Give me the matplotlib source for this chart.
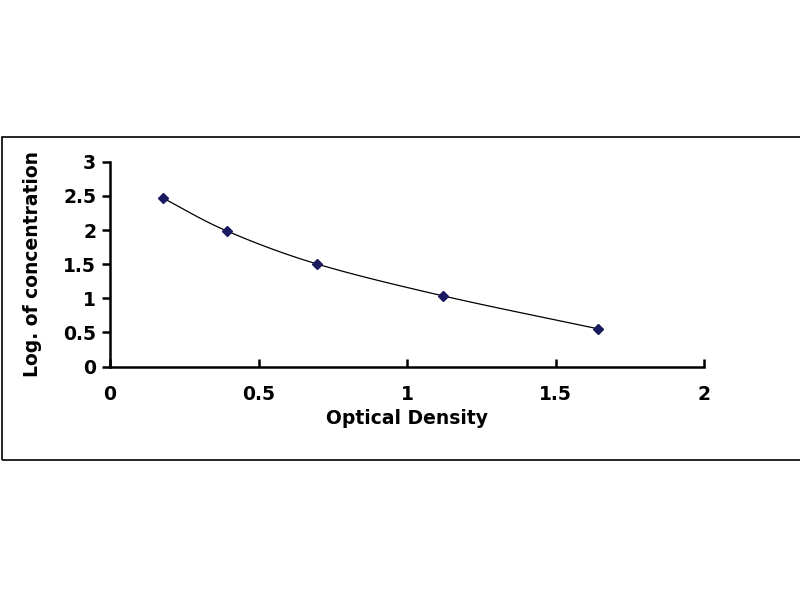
import matplotlib.pyplot as plt
import numpy as np
from matplotlib.patches import Rectangle

# standard curve points
od = [0.179, 0.393, 0.696, 1.122, 1.644]
log_conc = [2.465, 1.987, 1.504, 1.035, 0.552]

x_ticks = [0, 0.5, 1, 1.5, 2]
x_tick_labels = ['0', '0.5', '1', '1.5', '2']
y_ticks = [0, 0.5, 1, 1.5, 2, 2.5, 3]
y_tick_labels = ['0', '0.5', '1', '1.5', '2', '2.5', '3']

plt.rcParams['font.family'] = ['DejaVu Sans']
plt.rcParams['font.weight'] = 'bold'


def smooth(xs, ys, n=30):
    # Catmull-Rom curve through the points, like a smoothed line
    p = np.column_stack([xs, ys])
    p = np.vstack([2 * p[0] - p[1], p, 2 * p[-1] - p[-2]])
    out = []
    for i in range(1, len(p) - 2):
        p0, p1, p2, p3 = p[i - 1], p[i], p[i + 1], p[i + 2]
        t = np.linspace(0, 1, n)[:, None]
        seg = 0.5 * ((2 * p1) + (-p0 + p2) * t
                     + (2 * p0 - 5 * p1 + 4 * p2 - p3) * t ** 2
                     + (-p0 + 3 * p1 - 3 * p2 + p3) * t ** 3)
        out.append(seg)
    out = np.vstack(out)
    return out[:, 0], out[:, 1]


fig = plt.figure(figsize=(8, 6), dpi=100)
fig.patches.append(Rectangle((0.002, 0.233), 1.2, 0.538, transform=fig.transFigure,
                             fill=False, edgecolor='black', linewidth=1.2))
ax = fig.add_axes([0.1375, 0.389, 0.7425, 0.3415])

sx, sy = smooth(od, log_conc)
ax.plot(sx, sy, color='black', linewidth=0.9)
ax.plot(od, log_conc, linestyle='none', marker='D', markersize=5.5,
        color='#1a1a5e')

ax.set_xlim(0, 2)
ax.set_ylim(0, 3)
ax.set_xticks(x_ticks)
ax.set_xticklabels(x_tick_labels)
ax.set_yticks(y_ticks)
ax.set_yticklabels(y_tick_labels)

for s in ['top', 'right']:
    ax.spines[s].set_visible(False)
for s in ['left', 'bottom']:
    ax.spines[s].set_linewidth(1.8)
ax.spines['left'].set_zorder(0)

ax.tick_params(axis='x', direction='in', length=6, width=1.8, pad=13, labelsize=13.5)
ax.tick_params(axis='y', direction='out', length=6, width=1.8, pad=4, labelsize=13.5)

ax.set_xlabel('Optical Density', fontsize=13.5, fontweight='bold', labelpad=4)
ax.set_ylabel('Log. of concentration', fontsize=13.5, fontweight='bold', labelpad=15)

fig.savefig('out.png', dpi=100)
